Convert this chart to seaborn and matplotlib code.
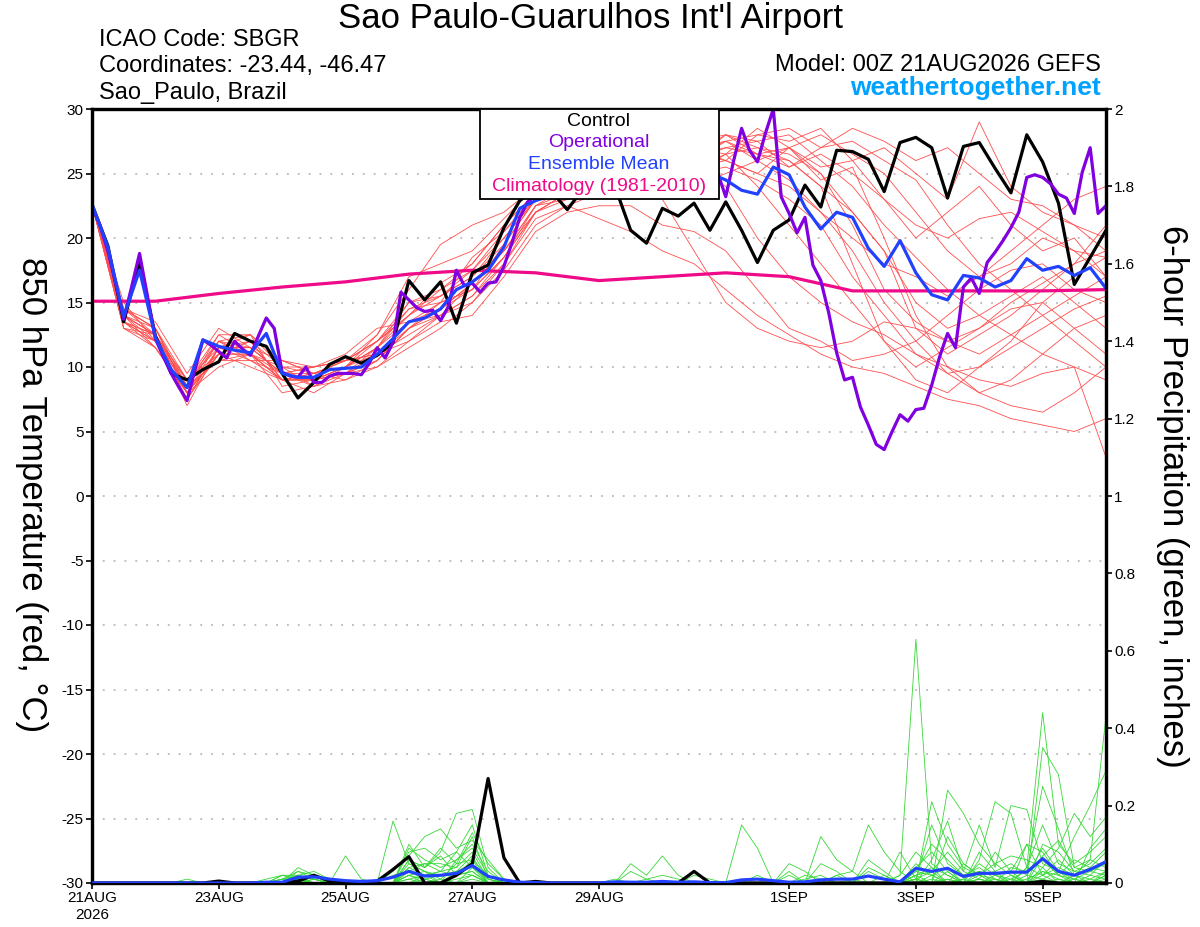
import numpy as np
import pandas as pd
import matplotlib
matplotlib.use("Agg")
import matplotlib.pyplot as plt
from matplotlib.patches import Rectangle
import seaborn as sns

# ---------------------------------------------------------------- text
station_title = "Sao Paulo-Guarulhos Int'l Airport"
header_left = ["ICAO Code: SBGR", "Coordinates: -23.44, -46.47", "Sao_Paulo, Brazil"]
model_run = "Model: 00Z 21AUG2026 GEFS"
site_name = "weathertogether.net"
left_label = "850 hPa Temperature (red, \u00b0C)"
right_label = "6-hour Precipitation (green, inches)"
legend_labels = ["Control", "Operational", "Ensemble Mean", "Climatology (1981-2010)"]

# ---------------------------------------------------------------- axes ticks
date_tick_hours = [0, 48, 96, 144, 192, 264, 312, 360]
date_tick_labels = ["21AUG\n2026", "23AUG", "25AUG", "27AUG", "29AUG", "1SEP", "3SEP", "5SEP"]
temp_ticks = [-30, -25, -20, -15, -10, -5, 0, 5, 10, 15, 20, 25, 30]
precip_ticks = [0, 0.2, 0.4, 0.6, 0.8, 1.0, 1.2, 1.4, 1.6, 1.8, 2.0]
precip_tick_labels = ["0", "0.2", "0.4", "0.6", "0.8", "1", "1.2", "1.4", "1.6", "1.8", "2"]

# ---------------------------------------------------------------- 850 hPa temperature
# control, 6-hourly
control_temp = [22.6, 19.4, 13.5, 18.2, 12.4, 9.5, 9.0, 9.8,
                10.4, 12.6, 12.0, 11.6, 9.5, 7.6, 8.8, 10.2,
                10.8, 10.3, 10.9, 11.9, 16.7, 15.2, 16.6, 13.4,
                17.3, 17.9, 20.8, 22.9, 23.8, 23.6, 22.2, 23.8,
                24.5, 24.0, 20.6, 19.6, 22.3, 21.7, 22.7, 20.6,
                22.8, 20.6, 18.1, 20.6, 21.4, 24.1, 22.4, 26.8,
                26.7, 26.1, 23.6, 27.4, 27.8, 27.0, 23.1, 27.1,
                27.4, 25.4, 23.5, 28.0, 25.9, 22.7, 16.4, 18.5,
                20.6]
# ensemble mean, 6-hourly
mean_temp = [22.6, 19.3, 13.9, 17.5, 12.3, 9.8, 8.4, 12.1,
             11.6, 11.3, 11.1, 12.6, 9.5, 9.2, 9.2, 9.8,
             9.9, 10.0, 11.0, 12.2, 13.5, 13.8, 14.5, 16.0,
             16.6, 17.5, 19.3, 22.3, 22.9, 23.3, 23.6, 23.8,
             24.0, 24.3, 24.5, 24.7, 24.8, 24.7, 24.9, 25.0,
             24.5, 23.7, 23.4, 25.5, 24.9, 22.4, 20.7, 22.0,
             21.6, 19.2, 17.8, 19.8, 17.3, 15.6, 15.2, 17.1,
             16.9, 16.2, 16.7, 18.4, 17.5, 17.8, 17.1, 17.7,
             16.1]
# operational, 3-hourly
oper_temp = [22.5, 21.0, 19.0, 16.5, 13.7, 16.2, 18.8, 15.5,
             12.2, 10.8, 9.5, 8.4, 7.4, 9.8, 12.1, 11.7,
             11.2, 10.7, 12.0, 11.4, 10.9, 12.4, 13.8, 13.0,
             9.6, 9.3, 9.2, 10.0, 8.8, 8.8, 9.3, 9.5,
             9.5, 9.5, 9.4, 10.3, 11.5, 10.7, 11.9, 15.8,
             15.2, 14.6, 14.3, 14.4, 13.6, 14.7, 17.5, 16.3,
             16.5, 15.8, 16.5, 16.6, 17.8, 19.6, 21.6, 22.8,
             23.3, 23.6, 24.0, 24.3, 24.8, 24.5, 25.0, 25.4,
             25.2, 25.6, 25.0, 25.5, 25.9, 25.3, 25.8, 26.0,
             25.6, 26.2, 25.8, 26.0, 25.5, 25.8, 25.4, 25.0,
             23.2, 26.0, 28.5, 26.8, 25.9, 28.1, 30.0, 23.2,
             21.9, 20.4, 21.6, 17.9, 16.7, 14.2, 11.1, 9.0,
             9.2, 6.9, 5.5, 4.0, 3.6, 5.0, 6.3, 5.8,
             6.7, 6.8, 8.6, 10.8, 12.6, 11.5, 16.2, 16.9,
             15.7, 18.1, 18.9, 19.8, 20.8, 22.0, 24.7, 24.9,
             24.7, 24.2, 23.4, 23.1, 21.9, 25.1, 27.0, 21.9,
             22.5]
# climatology, daily
climo_temp = [15.1, 15.1, 15.7, 16.2, 16.6, 17.2, 17.5, 17.3, 16.7,
              17.0, 17.3, 17.0, 15.9, 15.9, 15.9, 15.9, 16.0]

# ensemble members, 12-hourly
member_temps = [
    [22.6, 14.5, 13.0, 8.0, 11.0, 12.0, 9.0, 9.5, 10.5, 12.0, 14.0, 16.0, 18.0, 21.0, 23.5, 24.5, 25.0, 25.5, 26.0, 25.0, 26.5, 27.0, 26.0, 24.0, 22.0, 19.0, 13.0, 11.0, 12.5, 14.0, 16.0, 18.0, 19.0],
    [22.6, 13.5, 12.5, 9.0, 12.5, 11.0, 10.0, 8.5, 9.5, 11.5, 15.0, 15.5, 17.0, 20.0, 23.0, 24.0, 25.5, 26.0, 25.0, 26.0, 27.5, 26.0, 27.0, 25.5, 26.0, 23.0, 20.0, 22.0, 24.0, 21.0, 19.0, 20.0, 17.0],
    [22.6, 14.0, 12.0, 7.5, 11.5, 12.5, 8.5, 9.0, 10.0, 12.5, 17.0, 18.0, 19.0, 21.5, 24.0, 25.0, 24.5, 26.5, 27.0, 26.5, 28.0, 27.5, 25.5, 27.0, 27.5, 26.0, 24.5, 21.0, 18.0, 16.0, 14.0, 12.0, 10.0],
    [22.6, 13.0, 12.5, 8.5, 10.5, 10.5, 9.5, 10.0, 10.5, 11.0, 12.5, 14.0, 15.5, 18.5, 22.0, 23.5, 24.0, 25.0, 24.5, 25.5, 26.0, 25.0, 24.0, 22.0, 19.0, 15.0, 12.0, 9.5, 8.0, 9.0, 11.0, 13.0, 14.0],
    [22.6, 14.5, 13.5, 9.5, 13.0, 11.5, 10.5, 9.5, 9.0, 10.5, 13.0, 14.5, 16.5, 19.0, 22.5, 23.5, 24.0, 24.5, 25.5, 26.0, 27.0, 26.5, 26.0, 24.0, 18.0, 12.0, 9.0, 8.0, 10.0, 12.0, 15.0, 17.0, 18.5],
    [22.6, 13.5, 11.5, 8.0, 11.0, 11.0, 9.0, 8.0, 9.5, 10.0, 12.0, 13.5, 14.0, 17.0, 20.5, 22.0, 22.5, 22.5, 21.0, 20.5, 19.0, 16.0, 13.0, 12.0, 10.5, 11.0, 12.0, 14.0, 16.0, 17.5, 18.0, 16.0, 15.0],
    [22.6, 14.0, 12.5, 7.0, 11.5, 11.5, 9.5, 9.0, 10.0, 11.5, 14.5, 15.0, 16.0, 19.5, 23.0, 24.0, 25.0, 26.0, 26.5, 27.0, 26.0, 28.0, 27.5, 28.5, 26.0, 27.0, 25.0, 23.0, 29.0, 24.0, 22.0, 21.0, 20.0],
    [22.6, 15.0, 12.0, 8.5, 12.0, 10.5, 10.5, 10.0, 11.0, 13.0, 13.5, 15.0, 18.5, 20.5, 23.5, 24.5, 25.5, 26.0, 26.5, 26.0, 28.0, 26.5, 27.0, 25.0, 22.0, 19.0, 15.0, 13.0, 14.0, 15.5, 17.0, 15.0, 13.0],
    [22.6, 14.0, 13.0, 9.0, 11.0, 12.0, 9.0, 9.5, 10.0, 11.5, 13.5, 14.0, 15.0, 17.5, 21.0, 22.5, 23.5, 24.5, 25.0, 25.5, 26.5, 24.0, 21.0, 18.0, 15.0, 12.0, 10.0, 11.5, 13.0, 15.0, 16.5, 18.0, 21.0],
    [22.6, 13.0, 11.5, 8.0, 10.0, 11.0, 8.0, 8.5, 9.0, 10.0, 11.5, 13.0, 15.0, 18.0, 21.5, 22.5, 21.5, 20.5, 19.0, 18.0, 16.0, 14.0, 12.5, 11.0, 10.0, 9.5, 8.5, 7.5, 7.0, 6.0, 5.5, 5.0, 6.0],
    [22.6, 14.5, 12.5, 8.5, 12.5, 12.5, 10.0, 9.5, 10.5, 12.0, 15.0, 16.0, 17.5, 20.5, 23.0, 24.0, 24.5, 25.5, 26.0, 27.0, 27.5, 28.0, 28.5, 27.0, 28.5, 27.5, 26.0, 27.0, 25.0, 23.0, 22.5, 21.0, 19.0],
    [22.6, 13.5, 12.0, 7.5, 11.0, 10.0, 9.0, 9.0, 9.5, 11.0, 13.0, 14.5, 16.0, 18.5, 22.5, 23.0, 24.5, 25.0, 25.5, 25.0, 25.5, 24.5, 23.0, 21.0, 17.0, 14.0, 11.0, 10.0, 9.0, 8.5, 9.5, 10.0, 3.0],
    [22.6, 14.0, 12.5, 9.0, 12.0, 11.5, 9.5, 8.5, 10.0, 11.5, 14.0, 15.5, 17.0, 19.5, 23.0, 24.5, 25.0, 25.5, 26.0, 26.5, 27.0, 27.5, 28.0, 26.0, 24.0, 21.0, 18.5, 16.0, 14.0, 12.5, 11.0, 10.0, 9.0],
    [22.6, 14.5, 13.0, 8.0, 11.5, 12.0, 10.0, 10.0, 10.5, 12.5, 16.0, 19.5, 21.0, 22.0, 24.0, 25.0, 25.5, 26.0, 26.5, 27.5, 28.0, 27.0, 26.5, 25.0, 21.0, 16.0, 13.5, 12.0, 13.0, 14.5, 15.0, 13.0, 11.0],
    [22.6, 13.5, 12.0, 8.5, 10.5, 11.0, 9.0, 9.0, 9.5, 10.5, 13.0, 14.0, 15.5, 18.0, 22.0, 23.0, 23.5, 24.0, 24.5, 24.0, 25.0, 26.0, 24.5, 22.0, 20.0, 18.0, 17.0, 15.5, 17.0, 19.0, 21.0, 23.0, 24.0],
    [22.6, 14.0, 12.5, 8.0, 12.0, 11.0, 9.5, 9.5, 10.5, 11.0, 13.5, 14.5, 16.5, 19.0, 22.5, 24.0, 24.5, 25.0, 25.5, 26.5, 26.0, 25.0, 27.0, 24.5, 25.5, 20.0, 14.0, 10.0, 8.0, 7.0, 6.5, 8.0, 10.0],
    [22.6, 13.0, 12.0, 9.0, 11.5, 10.5, 9.0, 9.0, 10.0, 11.0, 12.0, 14.0, 16.5, 19.0, 22.0, 23.5, 24.0, 25.0, 23.0, 19.0, 15.0, 13.0, 12.0, 11.5, 12.0, 13.5, 13.0, 12.0, 11.0, 12.5, 14.0, 15.5, 17.0],
    [22.6, 14.5, 13.0, 8.5, 12.0, 12.5, 10.5, 9.5, 10.0, 12.0, 14.5, 15.5, 17.5, 20.0, 23.0, 24.5, 25.0, 26.0, 26.5, 27.0, 26.5, 28.5, 27.0, 28.0, 26.5, 25.0, 22.0, 19.0, 17.0, 18.0, 20.0, 19.0, 17.0],
    [22.6, 14.0, 11.5, 8.0, 11.0, 11.0, 9.0, 9.0, 9.5, 10.5, 13.0, 15.0, 16.0, 18.5, 22.0, 23.5, 24.0, 25.5, 26.0, 25.5, 24.0, 20.0, 17.0, 15.0, 13.5, 12.5, 11.0, 9.5, 10.0, 11.5, 13.0, 14.5, 15.5],
    [22.6, 13.5, 12.5, 7.5, 11.5, 11.5, 9.5, 10.0, 10.5, 12.0, 14.0, 16.5, 18.0, 21.0, 23.5, 24.5, 25.0, 26.5, 27.0, 26.5, 27.5, 26.5, 25.5, 26.5, 25.0, 23.0, 21.0, 20.0, 21.5, 22.0, 20.5, 19.0, 18.5],
]

# ---------------------------------------------------------------- 6-hour precipitation (inches)
control_precip = [0, 0, 0, 0, 0, 0, 0, 0,
                  0.005, 0, 0, 0, 0, 0.005, 0.02, 0.005,
                  0, 0, 0.005, 0.035, 0.068, 0, 0, 0.02,
                  0.05, 0.27, 0.065, 0, 0.004, 0, 0, 0,
                  0, 0, 0, 0, 0, 0, 0.03, 0,
                  0, 0, 0, 0, 0, 0, 0, 0,
                  0, 0, 0, 0, 0, 0, 0, 0,
                  0, 0, 0, 0, 0.004, 0, 0, 0,
                  0]
mean_precip = [0, 0, 0, 0, 0, 0, 0, 0,
               0, 0, 0, 0.002, 0.002, 0.015, 0.016, 0.01,
               0.006, 0.004, 0.006, 0.015, 0.03, 0.018, 0.02, 0.025,
               0.045, 0.017, 0.008, 0.002, 0.001, 0, 0, 0,
               0, 0.003, 0.002, 0.002, 0.004, 0.002, 0.003, 0.001,
               0.001, 0.008, 0.01, 0.006, 0.002, 0.003, 0.008, 0.01,
               0.01, 0.018, 0.01, 0.003, 0.038, 0.03, 0.038, 0.017,
               0.025, 0.025, 0.028, 0.028, 0.063, 0.03, 0.02, 0.035,
               0.055]
# members: {6-hour period number: precipitation in hundredths of an inch}
member_precip_hundredths = [
    {12: 1, 13: 2, 14: 3, 15: 1, 19: 16, 20: 5, 21: 3, 23: 6, 24: 10, 25: 3, 34: 5, 35: 2, 36: 7, 37: 2, 51: 2, 52: 63, 53: 5, 54: 2, 56: 1, 60: 10, 61: 8, 62: 3, 63: 5, 64: 9},
    {13: 4, 14: 2, 20: 10, 21: 4, 22: 8, 23: 18, 24: 19, 25: 4, 41: 15, 42: 9, 44: 2, 53: 21, 54: 10, 55: 4, 56: 2, 57: 3, 59: 4, 60: 44, 61: 10, 62: 5, 63: 8, 64: 12},
    {14: 1, 16: 7, 17: 1, 20: 8, 21: 9, 22: 6, 23: 8, 24: 15, 25: 2, 46: 12, 47: 6, 48: 3, 49: 15, 50: 8, 51: 3, 54: 24, 55: 18, 56: 10, 57: 5, 58: 2, 60: 35, 61: 28, 62: 4, 63: 6, 64: 43},
    {12: 2, 13: 1, 19: 3, 20: 7, 21: 12, 22: 14, 23: 9, 24: 11, 25: 6, 26: 1, 44: 5, 45: 3, 47: 2, 53: 6, 54: 16, 55: 3, 56: 15, 57: 4, 58: 20, 59: 19, 60: 5, 61: 3, 62: 12, 63: 20, 64: 29},
    {6: 1, 13: 2, 14: 1, 20: 4, 21: 2, 22: 3, 23: 4, 24: 12, 25: 1, 33: 1, 35: 1, 46: 5, 47: 3, 49: 4, 50: 2, 52: 4, 53: 8, 54: 3, 56: 6, 57: 21, 58: 18, 59: 4, 60: 2, 61: 6, 62: 2, 63: 4, 64: 8},
    {11: 1, 12: 2, 13: 2, 14: 1, 20: 6, 21: 4, 22: 7, 23: 2, 24: 6, 25: 2, 34: 3, 35: 1, 36: 2, 37: 1, 49: 6, 50: 3, 52: 3, 53: 10, 54: 6, 55: 2, 56: 4, 57: 1, 59: 10, 60: 8, 61: 2, 62: 1, 63: 3, 64: 5},
    {13: 3, 14: 2, 19: 2, 20: 3, 21: 5, 22: 5, 23: 4, 24: 8, 25: 1, 47: 2, 48: 3, 51: 8, 52: 1, 53: 3, 55: 1, 56: 5, 57: 2, 58: 1, 59: 3, 60: 25, 61: 14, 62: 2, 63: 1, 64: 3},
    {12: 1, 14: 2, 20: 5, 21: 3, 22: 2, 23: 3, 24: 5, 45: 1, 46: 2, 48: 1, 52: 2, 53: 4, 54: 2, 56: 8, 57: 3, 58: 5, 59: 2, 60: 9, 61: 3, 62: 1, 64: 2},
    {13: 1, 20: 9, 21: 6, 22: 4, 23: 6, 24: 9, 25: 2, 42: 2, 44: 3, 50: 2, 52: 1, 54: 12, 55: 5, 56: 2, 57: 5, 58: 7, 59: 6, 60: 4, 61: 9, 62: 18, 63: 12, 64: 17},
    {12: 1, 13: 3, 14: 1, 20: 3, 21: 2, 22: 3, 23: 8, 24: 4, 25: 1, 38: 2, 39: 1, 52: 3, 53: 2, 56: 3, 57: 2, 58: 3, 59: 10, 60: 2, 61: 4, 62: 2, 63: 6, 64: 4},
    {14: 2, 15: 1, 20: 2, 21: 1, 22: 2, 23: 3, 24: 7, 51: 2, 52: 8, 53: 4, 55: 5, 56: 2, 59: 4, 60: 15, 61: 5, 62: 3, 63: 2, 64: 6},
    {13: 2, 20: 4, 21: 5, 22: 3, 23: 2, 24: 3, 26: 1, 45: 2, 46: 1, 52: 5, 53: 2, 54: 4, 56: 1, 57: 8, 58: 3, 60: 3, 61: 2, 63: 9, 64: 14},
    {12: 2, 13: 1, 20: 2, 21: 3, 22: 1, 23: 5, 24: 6, 49: 3, 50: 1, 52: 1, 53: 15, 54: 5, 55: 2, 56: 3, 58: 2, 60: 7, 61: 11, 62: 4, 63: 3, 64: 2},
    {14: 1, 20: 6, 21: 4, 22: 9, 23: 5, 24: 13, 25: 5, 26: 1, 52: 2, 53: 3, 54: 8, 55: 3, 56: 1, 58: 4, 59: 3, 60: 6, 61: 2, 62: 6, 63: 4, 64: 3},
    {13: 1, 20: 1, 21: 2, 22: 2, 23: 2, 24: 3, 52: 1, 54: 1, 56: 2, 57: 1, 59: 1, 60: 3, 61: 1, 63: 2, 64: 1},
    {20: 3, 21: 1, 23: 1, 24: 2, 53: 1, 56: 1, 60: 2, 62: 1, 64: 2},
    {13: 1, 20: 2, 22: 1, 24: 4, 54: 3, 57: 1, 60: 1, 61: 3, 64: 1},
    {12: 1, 21: 2, 23: 3, 24: 2, 52: 2, 55: 1, 58: 1, 60: 4, 63: 1},
    {20: 1, 24: 1, 53: 2, 59: 2, 60: 1, 62: 2, 64: 3},
    {21: 1, 24: 2, 54: 1, 57: 2, 61: 1},
]

# ---------------------------------------------------------------- colours
RED = "#ff4d4d"
GREEN = "#37d837"
PURPLE = "#8000e0"
BLUE = "#2141ff"
PINK = "#ee0a88"
SITE_BLUE = "#00a2ff"
legend_colors = ["black", PURPLE, BLUE, PINK]

# ---------------------------------------------------------------- tables
hours_6h = np.arange(len(control_temp)) * 6
hours_3h = np.arange(len(oper_temp)) * 3
hours_12h = np.arange(len(member_temps[0])) * 12
hours_24h = np.arange(len(climo_temp)) * 24
n_steps = len(control_precip)

mt_rows = []
for m, vals in enumerate(member_temps):
    for h, v in zip(hours_12h, vals):
        mt_rows.append((m, h, v))
df_mt = pd.DataFrame(mt_rows, columns=["member", "hour", "temp"])

mp_rows = []
for m, d in enumerate(member_precip_hundredths):
    for s in range(n_steps):
        mp_rows.append((m, s * 6, d.get(s, 0) / 100.0))
df_mp = pd.DataFrame(mp_rows, columns=["member", "hour", "precip"])

# ---------------------------------------------------------------- style
sns.set_style("white")
plt.rcParams["font.family"] = ["Liberation Sans", "DejaVu Sans"]
plt.rcParams["text.color"] = "black"
plt.rcParams["axes.labelcolor"] = "black"
plt.rcParams["xtick.color"] = "black"
plt.rcParams["ytick.color"] = "black"

W, H = 1200, 927
fig = plt.figure(figsize=(W / 100, H / 100), dpi=100)
fig.patch.set_facecolor("white")
ax = fig.add_axes([92 / W, (H - 883) / H, (1106 - 92) / W, (883 - 109) / H])
ax2 = ax.twinx()

# temperature
sns.lineplot(data=df_mt, x="hour", y="temp", units="member", estimator=None,
             color=RED, linewidth=0.6, legend=False, ax=ax, zorder=2)
sns.lineplot(x=hours_24h, y=climo_temp, color=PINK, linewidth=2.3, ax=ax, zorder=3)
sns.lineplot(x=hours_6h, y=control_temp, color="black", linewidth=2.3, ax=ax, zorder=4)
sns.lineplot(x=hours_3h, y=oper_temp, color=PURPLE, linewidth=2.3, ax=ax, zorder=5)
sns.lineplot(x=hours_6h, y=mean_temp, color=BLUE, linewidth=2.3, ax=ax, zorder=6)

# precipitation
sns.lineplot(data=df_mp, x="hour", y="precip", units="member", estimator=None,
             color=GREEN, linewidth=0.6, legend=False, ax=ax2, zorder=2)
sns.lineplot(x=hours_6h, y=control_precip, color="black", linewidth=2.3, ax=ax2, zorder=4)
sns.lineplot(x=hours_6h, y=mean_precip, color=BLUE, linewidth=2.3, ax=ax2, zorder=5)

# axes
ax.set_xlim(0, 384)
ax.set_ylim(-30, 30)
ax2.set_ylim(0, 2)
ax.set_xlabel("")
ax.set_ylabel("")
ax2.set_xlabel("")
ax2.set_ylabel("")
ax.set_xticks(date_tick_hours)
ax.set_xticklabels(date_tick_labels)
ax.set_yticks(temp_ticks)
ax.set_yticklabels([str(t) for t in temp_ticks])
ax2.set_yticks(precip_ticks)
ax2.set_yticklabels(precip_tick_labels)

ax.tick_params(axis="x", direction="out", length=4, width=1.2, pad=2, labelsize=11,
               bottom=True, colors="black")
ax.tick_params(axis="y", direction="out", length=4, width=1.2, pad=2, labelsize=11,
               left=True, colors="black")
ax2.tick_params(axis="y", direction="out", length=4, width=1.2, pad=2, labelsize=11,
                right=True, colors="black")

ax.yaxis.grid(True, color="#b8b8b8", linestyle=(0, (1, 5)), linewidth=1.3)
ax.set_axisbelow(True)
for a in (ax, ax2):
    for sp in a.spines.values():
        sp.set_linewidth(2.3)
        sp.set_color("black")
        sp.set_visible(True)

# legend box
x0 = (480 - 92) / (1106 - 92)
x1 = (719 - 92) / (1106 - 92)
y0 = (883 - 199) / (883 - 109)
ax2.add_patch(Rectangle((x0, y0), x1 - x0, 1 - y0, transform=ax2.transAxes,
                        facecolor="white", edgecolor="black", linewidth=1.3,
                        zorder=20, clip_on=False))
row_px = [121, 142, 164, 186]
xc = (599 - 92) / (1106 - 92)
for lab, col, ypx in zip(legend_labels, legend_colors, row_px):
    ax2.text(xc, (883 - ypx) / (883 - 109), lab, color=col, fontsize=14,
             ha="center", va="center", transform=ax2.transAxes, zorder=21)

# header texts
fig.text(590 / W, 1 - 28 / H, station_title, ha="center", va="baseline", fontsize=25,
         color="black")
for txt, base in zip(header_left, [46, 72, 99]):
    fig.text(99 / W, 1 - base / H, txt, ha="left", va="baseline", fontsize=17, color="black")
fig.text(1101 / W, 1 - 71 / H, model_run, ha="right", va="baseline", fontsize=17, color="black")
fig.text(1101 / W, 1 - 95 / H, site_name, ha="right", va="baseline", fontsize=19,
         fontweight="bold", color=SITE_BLUE)

fig.text(31 / W, 1 - 495 / H, left_label, rotation=270, ha="center", va="center",
         fontsize=25, color="black")
fig.text(1173 / W, 1 - 496 / H, right_label, rotation=270, ha="center", va="center",
         fontsize=25, color="black")

fig.savefig("out.png", dpi=100, facecolor="white")
